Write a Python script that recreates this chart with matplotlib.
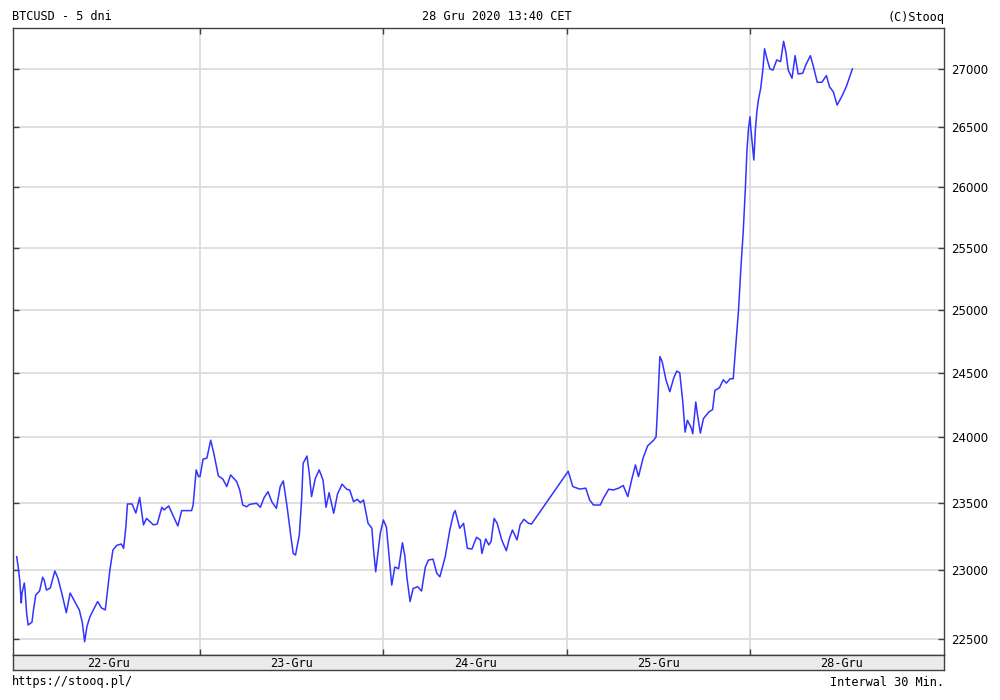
import matplotlib
matplotlib.use("Agg")
import matplotlib.pyplot as plt
import matplotlib.ticker as mticker

# BTCUSD, 30 min bars; hours counted from 22-Gru 00:00 over the shown trading days
hours = [0.0, 0.2, 0.4, 0.6, 0.7, 1.0, 1.1, 1.3, 1.5, 2.0, 2.2, 2.5, 3.0, 3.4, 3.6, 3.9,
         4.4, 5.0, 5.4, 5.9, 6.5, 7.0, 7.6, 8.2, 8.6, 8.9, 9.2, 9.6, 10.6, 11.1, 11.6, 11.8,
         12.2, 12.6, 13.1, 13.7, 14.0, 14.3, 14.5, 15.1, 15.6, 16.1, 16.6, 17.0, 17.9, 18.4,
         19.0, 19.3, 19.9, 21.1, 21.6, 22.9, 23.1, 23.5, 23.8,
         24.0, 24.4, 24.9, 25.4, 25.8, 26.4, 27.0, 27.5, 28.0, 28.8, 29.2, 29.6, 30.1, 30.5,
         31.4, 31.9, 32.4, 32.9, 33.4, 34.0, 34.5, 34.9, 35.4, 35.9, 36.2, 36.5, 37.0, 37.3,
         37.5, 38.0, 38.3, 38.6, 39.1, 39.6, 40.1, 40.5, 40.9, 41.5, 42.0, 42.6, 43.2, 43.6,
         44.1, 44.6, 45.0, 45.4, 45.7, 46.0, 46.5, 46.7, 47.0, 47.6, 48.0,
         48.4, 48.8, 49.1, 49.5, 50.0, 50.5, 50.8, 51.1, 51.5, 51.9, 52.5, 53.0, 53.5, 53.9,
         54.5, 55.0, 55.4, 56.1, 56.7, 57.2, 57.4, 58.0, 58.5, 59.0, 59.6, 60.2, 60.7, 60.9,
         61.4, 61.8, 62.1, 62.5, 62.9, 63.5, 64.1, 64.5, 64.9, 65.5, 65.9, 66.4, 67.0, 67.4,
         72.2, 72.8, 73.7, 74.5, 75.0, 75.5, 76.4, 76.8, 77.5, 78.1, 78.8, 79.4, 80.0, 80.5,
         81.0, 81.4, 82.0, 82.6, 83.4, 83.7, 83.9, 84.2, 84.5, 85.0, 85.5, 86.0, 86.4, 86.8,
         87.2, 87.5, 87.8, 88.3, 88.5, 88.9, 89.1, 89.5, 89.9, 90.6, 91.1, 91.4, 92.0, 92.5,
         92.9, 93.4, 93.8, 94.1, 94.5, 94.8, 95.1, 95.4, 95.6, 95.8, 96.0,
         96.1, 96.4, 96.5, 96.7, 96.9, 97.1, 97.4, 97.7, 97.9, 98.2, 98.6, 99.0, 99.5, 100.0,
         100.4, 100.7, 101.0, 101.5, 101.9, 102.3, 102.9, 103.3, 103.9, 104.3, 104.8, 105.4,
         106.0, 106.4, 106.9, 107.4, 108.0, 108.6, 109.4]
prices = [23100, 23025, 22928, 22761, 22833, 22906, 22855, 22688, 22601, 22621, 22710, 22819,
          22848, 22949, 22928, 22855, 22870, 22995, 22942, 22833, 22690, 22833, 22771, 22710,
          22616, 22480, 22590, 22662, 22771, 22725, 22710, 22807, 23000, 23149, 23184, 23194,
          23162, 23323, 23493, 23493, 23425, 23542, 23336, 23385, 23336, 23343, 23468, 23448,
          23478, 23328, 23443, 23443, 23485, 23750, 23700,
          23700, 23832, 23840, 23977, 23878, 23705, 23680, 23624, 23712, 23662, 23598, 23485,
          23472, 23490, 23498, 23468, 23542, 23585, 23510, 23460, 23624, 23667, 23472, 23249,
          23124, 23112, 23261, 23523, 23800, 23856, 23725, 23548, 23687, 23750, 23674, 23468,
          23578, 23423, 23568, 23642, 23604, 23598, 23510, 23528, 23503, 23523, 23435, 23348,
          23311, 23162, 22989, 23274, 23373,
          23320, 23075, 22891, 23024, 23012, 23204, 23112, 22940, 22771, 22867, 22879, 22848,
          23024, 23075, 23082, 22977, 22952, 23100, 23298, 23423, 23443, 23311, 23348, 23162,
          23157, 23244, 23224, 23124, 23232, 23187, 23212, 23385, 23348, 23224, 23144, 23236,
          23298, 23224, 23336, 23378, 23348, 23343,
          23740, 23624, 23605, 23612, 23523, 23485, 23485, 23535, 23604, 23598, 23612, 23632,
          23548, 23674, 23788, 23699, 23840, 23934, 23978, 24003, 24233, 24627, 24587, 24443,
          24352, 24456, 24513, 24500, 24272, 24039, 24130, 24073, 24026, 24272, 24182, 24031,
          24143, 24194, 24213, 24362, 24383, 24445, 24419, 24453, 24453, 24690, 25000, 25330,
          25619, 26000, 26310, 26490, 26590,
          26493, 26295, 26225, 26480, 26635, 26735, 26835, 27006, 27175, 27093, 27000, 26990,
          27078, 27063, 27240, 27143, 26990, 26920, 27115, 26957, 26963, 27035, 27115, 27020,
          26885, 26885, 26943, 26847, 26804, 26690, 26762, 26847, 27000]

day_labels = ["22-Gru", "23-Gru", "24-Gru", "25-Gru", "28-Gru"]
y_ticks = [22500, 23000, 23500, 24000, 24500, 25000, 25500, 26000, 26500, 27000]

mono = "DejaVu Sans Mono"
frame_col = "#404040"

fig = plt.figure(figsize=(10, 7), dpi=100)
ax = fig.add_axes([0.013, 45 / 700, 0.931, 627 / 700])
band = fig.add_axes([0.013, 30 / 700, 0.931, 15 / 700])

x = [h / 24 for h in hours]
ax.plot(x, prices, color="#3333ff", lw=1.1)

ax.set_yscale("log")
ax.set_ylim(22385, 27356)
ax.set_xlim(-0.02, 5.058)
ax.yaxis.set_major_locator(mticker.FixedLocator(y_ticks))
ax.yaxis.set_major_formatter(mticker.FixedFormatter([str(v) for v in y_ticks]))
ax.yaxis.set_minor_locator(mticker.NullLocator())
ax.set_xticks(range(1, len(day_labels)))
ax.xaxis.set_minor_locator(mticker.NullLocator())
ax.grid(True, color="#dcdcdc", lw=1.3)
ax.set_axisbelow(True)
ax.tick_params(axis="y", direction="in", length=4, width=1, color=frame_col,
               left=True, right=True, labelleft=False, labelright=True,
               labelsize=8.5, pad=5)
ax.tick_params(axis="x", direction="in", length=4, width=1, color=frame_col,
               top=True, bottom=True, labelbottom=False)
for s in ax.spines.values():
    s.set_color(frame_col)
    s.set_linewidth(1)

# day label strip under the plot
band.set_facecolor("#ebebeb")
band.set_xlim(ax.get_xlim())
band.set_ylim(0, 1)
band.set_xticks([])
band.set_yticks([])
for s in band.spines.values():
    s.set_color(frame_col)
    s.set_linewidth(1)
for i, lab in enumerate(day_labels):
    band.text(i + 0.5, 0.45, lab, ha="center", va="center", family=mono, fontsize=8.6)

fig.text(0.012, 1 - 17 / 700, "BTCUSD - 5 dni", ha="left", va="center", family=mono, fontsize=8.6)
fig.text(0.497, 1 - 17 / 700, "28 Gru 2020 13:40 CET", ha="center", va="center", family=mono, fontsize=8.6)
fig.text(0.944, 1 - 17 / 700, "(C)Stooq", ha="right", va="center", family=mono, fontsize=8.6)
fig.text(0.012, 1 - 682 / 700, "https://stooq.pl/", ha="left", va="center", family=mono, fontsize=8.6)
fig.text(0.944, 1 - 682 / 700, "Interwal 30 Min.", ha="right", va="center", family=mono, fontsize=8.6)

fig.savefig("out.png", dpi=100)
